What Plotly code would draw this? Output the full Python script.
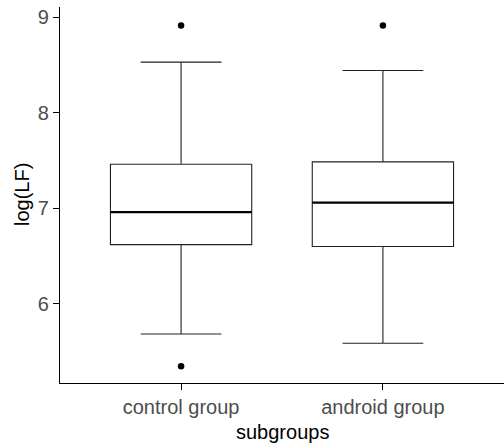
import plotly.graph_objects as go

groups = ["control group", "android group"]
q1 = [6.62, 6.60]
median = [6.96, 7.06]
q3 = [7.46, 7.485]
lower_whisker = [5.686, 5.588]
upper_whisker = [8.529, 8.441]
outlier_x = [0, 0, 1]
outlier_y = [8.912, 5.348, 8.912]

y_ticks = [6, 7, 8, 9]
BOX_W = 0.7

fig = go.Figure()
xs = list(range(len(groups)))
fig.add_trace(go.Box(
    x=xs, q1=q1, median=median, q3=q3,
    lowerfence=lower_whisker, upperfence=upper_whisker,
    width=BOX_W, whiskerwidth=0.4 / BOX_W,
    fillcolor="white", line=dict(color="#222222", width=1.1),
    boxpoints=False, showlegend=False, hoverinfo="skip",
))
for i, m in enumerate(median):
    fig.add_trace(go.Scatter(
        x=[xs[i] - BOX_W / 2, xs[i] + BOX_W / 2], y=[m, m], mode="lines",
        line=dict(color="black", width=2.2), showlegend=False, hoverinfo="skip",
    ))
fig.add_trace(go.Scatter(
    x=outlier_x, y=outlier_y, mode="markers",
    marker=dict(color="black", size=6.5), showlegend=False, hoverinfo="skip",
))

font = dict(family="Liberation Sans, Arial, sans-serif", size=20, color="#4D4D4D")
fig.update_layout(
    width=504, height=448,
    margin=dict(l=60, r=0, t=7, b=65),
    plot_bgcolor="white", paper_bgcolor="white",
    font=font,
    xaxis=dict(
        range=[-0.6, 1.6], tickvals=xs, ticktext=groups,
        showline=True, linecolor="black", linewidth=1.3,
        ticks="outside", ticklen=6, tickcolor="black", tickwidth=1.3,
        showgrid=False, zeroline=False, tickfont=font,
    ),
    yaxis=dict(
        range=[5.173, 9.105], tickvals=y_ticks,
        showline=True, linecolor="black", linewidth=1.3,
        ticks="outside", ticklen=6, tickcolor="black", tickwidth=1.3,
        showgrid=False, zeroline=False, tickfont=font,
    ),
    annotations=[
        dict(text="subgroups", xref="paper", yref="paper", x=0.5, y=0,
             xanchor="center", yanchor="middle", yshift=-49, showarrow=False,
             font=dict(family=font["family"], size=20, color="black")),
        dict(text="log(LF)", xref="paper", yref="paper", x=0, y=0.5,
             xanchor="center", yanchor="middle", xshift=-38, textangle=-90,
             showarrow=False,
             font=dict(family=font["family"], size=20, color="black")),
    ],
)
fig.write_html("out.html")
